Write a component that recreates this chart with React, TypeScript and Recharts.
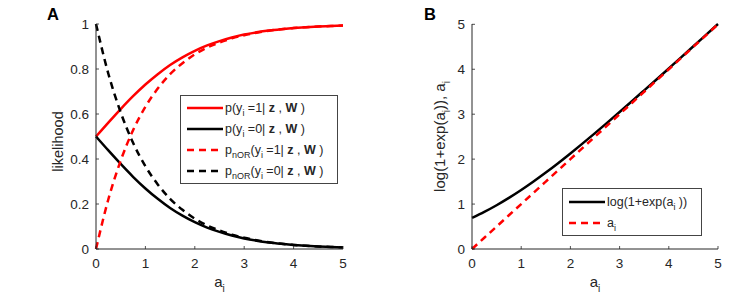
import React from 'react'
import { LineChart, Line, XAxis, YAxis, Legend } from 'recharts'

// a_i sample points (x axis of both panels)
const aValues = [0, 0.25, 0.5, 0.75, 1, 1.25, 1.5, 1.75, 2, 2.25, 2.5, 2.75, 3, 3.25, 3.5, 3.75, 4, 4.25, 4.5, 4.75, 5]

// panel A
const pYes = [0.5, 0.562, 0.622, 0.679, 0.731, 0.777, 0.818, 0.852, 0.881, 0.905, 0.924, 0.94, 0.953, 0.963, 0.971, 0.977, 0.982, 0.986, 0.989, 0.991, 0.993]
const pNo = [0.5, 0.438, 0.378, 0.321, 0.269, 0.223, 0.182, 0.148, 0.119, 0.095, 0.076, 0.06, 0.047, 0.037, 0.029, 0.023, 0.018, 0.014, 0.011, 0.009, 0.007]
const pNorYes = [0, 0.221, 0.393, 0.528, 0.632, 0.713, 0.777, 0.826, 0.865, 0.895, 0.918, 0.936, 0.95, 0.961, 0.97, 0.977, 0.982, 0.986, 0.989, 0.991, 0.993]
const pNorNo = [1, 0.779, 0.607, 0.472, 0.368, 0.287, 0.223, 0.174, 0.135, 0.105, 0.082, 0.064, 0.05, 0.039, 0.03, 0.023, 0.018, 0.014, 0.011, 0.009, 0.007]

// panel B
const softplus = [0.693, 0.826, 0.974, 1.137, 1.313, 1.502, 1.701, 1.91, 2.127, 2.35, 2.579, 2.812, 3.049, 3.288, 3.53, 3.773, 4.018, 4.264, 4.511, 4.759, 5.007]
const identity = [0, 0.25, 0.5, 0.75, 1, 1.25, 1.5, 1.75, 2, 2.25, 2.5, 2.75, 3, 3.25, 3.5, 3.75, 4, 4.25, 4.5, 4.75, 5]

const xTicks = [0, 1, 2, 3, 4, 5]
const likelihoodTicks = [0, 0.2, 0.4, 0.6, 0.8, 1]
const softplusTicks = [0, 1, 2, 3, 4, 5]

const dataA = aValues.map((a, i) => ({ a, pYes: pYes[i], pNo: pNo[i], pNorYes: pNorYes[i], pNorNo: pNorNo[i] }))
const dataB = aValues.map((a, i) => ({ a, softplus: softplus[i], identity: identity[i] }))

const AXIS = '#262626'
const RED = '#ff0000'
const FONT = '"Liberation Sans", Arial, Helvetica, sans-serif'
const DASH = '7 5'
const LW = 2.5

const XTick = (props: any) => {
  const { x, y, payload } = props
  return (
    <g>
      <line x1={x} x2={x} y1={y} y2={y - 3} stroke={AXIS} strokeWidth={0.8} />
      <text x={x} y={y + 19} textAnchor="middle" fill={AXIS} fontSize={13.5}>
        {payload.value}
      </text>
    </g>
  )
}

const YTick = (props: any) => {
  const { x, y, payload } = props
  return (
    <g>
      <line x1={x} x2={x + 3} y1={y} y2={y} stroke={AXIS} strokeWidth={0.8} />
      <text x={x - 7} y={y + 4.7} textAnchor="end" fill={AXIS} fontSize={13.5}>
        {payload.value}
      </text>
    </g>
  )
}

const xLabel = (props: any) => {
  const vb = props.viewBox
  const cx = vb.x + vb.width / 2
  return (
    <text x={cx} y={vb.y + 38} textAnchor="middle" fill={AXIS} fontSize={15}>
      a<tspan dy={5} fontSize={10}>i</tspan>
    </text>
  )
}

const yLabelA = (props: any) => {
  const vb = props.viewBox
  const cy = vb.y + vb.height / 2 + 5
  return (
    <text x={63} y={cy} textAnchor="middle" fill={AXIS} fontSize={14.5} transform={`rotate(-90, 63, ${cy})`}>
      likelihood
    </text>
  )
}

const yLabelB = (props: any) => {
  const vb = props.viewBox
  const cy = vb.y + vb.height / 2
  return (
    <text x={75} y={cy} textAnchor="middle" fill={AXIS} fontSize={15} transform={`rotate(-90, 75, ${cy})`}>
      log(1+exp(a<tspan dy={5} fontSize={10}>i</tspan>
      <tspan dy={-5}>)), a</tspan>
      <tspan dy={5} fontSize={10}>i</tspan>
    </text>
  )
}

const Sample = ({ color, dashed }: { color: string; dashed?: boolean }) => (
  <svg width={36} height={6} style={{ display: 'block', marginRight: 2 }}>
    <line x1={0} x2={36} y1={3} y2={3} stroke={color} strokeWidth={LW} strokeDasharray={dashed ? DASH : undefined} />
  </svg>
)

const sub = { fontSize: 9, position: 'relative' as const, top: 4 }

const legendBox: React.CSSProperties = {
  border: '1px solid #444',
  background: '#fff',
  boxSizing: 'border-box',
  fontFamily: FONT,
  fontSize: 12.5,
  color: AXIS,
}
const row: React.CSSProperties = { display: 'flex', alignItems: 'center', height: 21, paddingLeft: 6, whiteSpace: 'pre' }

const LegendA = () => (
  <div style={{ ...legendBox, width: 158, height: 89, paddingTop: 1 }}>
    <div style={row}>
      <Sample color={RED} />
      <span>p(y<span style={sub}>i</span> =1| <b>z</b> , <b>W</b> )</span>
    </div>
    <div style={row}>
      <Sample color="#000" />
      <span>p(y<span style={sub}>i</span> =0| <b>z</b> , <b>W</b> )</span>
    </div>
    <div style={row}>
      <Sample color={RED} dashed />
      <span>p<span style={sub}>nOR</span>(y<span style={sub}>i</span> =1| <b>z</b> , <b>W</b> )</span>
    </div>
    <div style={row}>
      <Sample color="#000" dashed />
      <span>p<span style={sub}>nOR</span>(y<span style={sub}>i</span> =0| <b>z</b> , <b>W</b> )</span>
    </div>
  </div>
)

const LegendB = () => (
  <div style={{ ...legendBox, width: 140, height: 48, paddingTop: 2 }}>
    <div style={row}>
      <Sample color="#000" />
      <span>log(1+exp(a<span style={sub}>i</span> ))</span>
    </div>
    <div style={row}>
      <Sample color={RED} dashed />
      <span>a<span style={sub}>i</span></span>
    </div>
  </div>
)

const panelLetter: React.CSSProperties = {
  position: 'absolute',
  top: 6,
  fontFamily: FONT,
  fontWeight: 'bold',
  fontSize: 16.5,
  lineHeight: '16px',
}

export default function App() {
  return (
    <div style={{ position: 'absolute', left: 0, top: 0, width: 736, height: 297, background: '#fff', fontFamily: FONT }}>
      <div style={{ position: 'absolute', left: 0, top: 0 }}>
        <LineChart width={370} height={297} data={dataA} margin={{ top: 24, right: 27, bottom: 0, left: 0 }}>
          <XAxis
            dataKey="a"
            type="number"
            domain={[0, 5]}
            ticks={xTicks}
            interval={0}
            height={48}
            tickSize={0}
            tickMargin={0}
            tickLine={false}
            tick={<XTick />}
            stroke={AXIS}
            label={xLabel}
          />
          <YAxis
            type="number"
            domain={[0, 1]}
            ticks={likelihoodTicks}
            interval={0}
            width={96}
            tickSize={0}
            tickMargin={0}
            tickLine={false}
            tick={<YTick />}
            stroke={AXIS}
            label={yLabelA}
          />
          <Line dataKey="pYes" type="monotone" stroke={RED} strokeWidth={LW} dot={false} isAnimationActive={false} />
          <Line dataKey="pNo" type="monotone" stroke="#000" strokeWidth={LW} dot={false} isAnimationActive={false} />
          <Line dataKey="pNorYes" type="monotone" stroke={RED} strokeWidth={LW} strokeDasharray={DASH} dot={false} isAnimationActive={false} />
          <Line dataKey="pNorNo" type="monotone" stroke="#000" strokeWidth={LW} strokeDasharray={DASH} dot={false} isAnimationActive={false} />
          <Legend
            layout="horizontal"
            verticalAlign="middle"
            align="center"
            content={() => <LegendA />}
            wrapperStyle={{ position: 'absolute', left: 180, top: 95, width: 'auto', height: 'auto' }}
          />
        </LineChart>
      </div>
      <div style={{ position: 'absolute', left: 370, top: 0 }}>
        <LineChart width={366} height={297} data={dataB} margin={{ top: 24, right: 18, bottom: 0, left: 0 }}>
          <XAxis
            dataKey="a"
            type="number"
            domain={[0, 5]}
            ticks={xTicks}
            interval={0}
            height={48}
            tickSize={0}
            tickMargin={0}
            tickLine={false}
            tick={<XTick />}
            stroke={AXIS}
            label={xLabel}
          />
          <YAxis
            type="number"
            domain={[0, 5]}
            ticks={softplusTicks}
            interval={0}
            width={102}
            tickSize={0}
            tickMargin={0}
            tickLine={false}
            tick={<YTick />}
            stroke={AXIS}
            label={yLabelB}
          />
          <Line dataKey="softplus" type="monotone" stroke="#000" strokeWidth={LW} dot={false} isAnimationActive={false} />
          <Line dataKey="identity" type="monotone" stroke={RED} strokeWidth={LW} strokeDasharray={DASH} dot={false} isAnimationActive={false} />
          <Legend
            layout="horizontal"
            verticalAlign="middle"
            align="center"
            content={() => <LegendB />}
            wrapperStyle={{ position: 'absolute', left: 192, top: 188, width: 'auto', height: 'auto' }}
          />
        </LineChart>
      </div>
      <div style={{ ...panelLetter, left: 47 }}>A</div>
      <div style={{ ...panelLetter, left: 424 }}>B</div>
    </div>
  )
}
